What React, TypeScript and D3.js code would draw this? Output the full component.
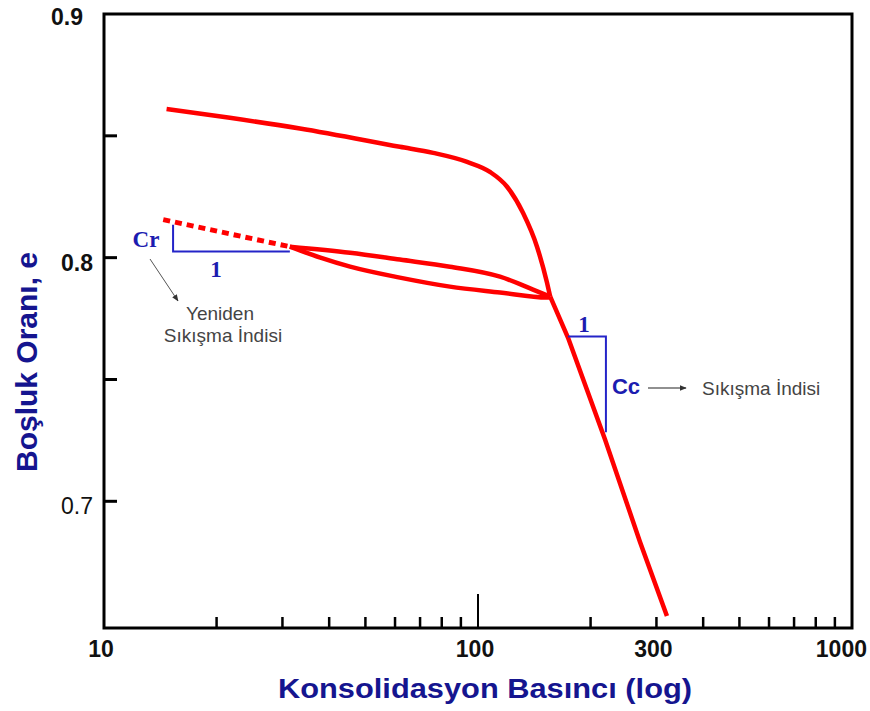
import React, { useEffect, useRef } from "react";
import * as d3 from "d3";

// values (pressure on log axis, void ratio e)
const virginP = [14.7, 21.7, 33.4, 61.8, 75.9, 93.5, 107.6, 119.6, 131.9, 143.8, 152.9, 156];
const virginE = [0.861, 0.8574, 0.853, 0.8455, 0.843, 0.8393, 0.8352, 0.8291, 0.8184, 0.8045, 0.7898, 0.784];

const compP = [156, 174, 218.6, 271.3, 320];
const compE = [0.784, 0.7672, 0.7254, 0.6832, 0.6529];

const unloadP = [31.4, 37.9, 45.5, 61.8, 84.1, 114.5, 152.9, 156];
const unloadE = [0.8045, 0.8, 0.7963, 0.7918, 0.7881, 0.7857, 0.7836, 0.784];

const reloadP = [31.4, 45.5, 61.8, 84.1, 114.5, 140.3, 156];
const reloadE = [0.8045, 0.802, 0.7992, 0.7963, 0.7922, 0.7869, 0.784];

const extP = [14.4, 31.4];
const extE = [0.8156, 0.8045];

// slope triangles
const crP = [15.3, 31.4];
const crE = [0.8135, 0.8025];
const ccP = [174, 219.8];
const ccE = [0.7676, 0.7283];

const xLabels = [10, 100, 300, 1000];
const xMinor = [20, 30, 40, 50, 60, 70, 80, 90, 200, 300, 400, 500, 600, 700, 800, 900];
const yTicks = [0.85, 0.8, 0.75, 0.7];
const yLabels = [0.9, 0.8, 0.7];

const sans = "'Liberation Sans', Arial, sans-serif";
const serif = "'Liberation Serif', 'Times New Roman', serif";

export default function App() {
  const ref = useRef<SVGSVGElement>(null);

  useEffect(() => {
    const svg = d3.select(ref.current);
    svg.selectAll("*").remove();

    const left = 104, right = 852, top = 14, bottom = 628;
    const x = d3.scaleLog().domain([10, 1000]).range([left, right]);
    const y = d3.scaleLinear().domain([0.648, 0.9]).range([bottom, top]);

    const pts = (ps: number[], es: number[]) => ps.map((p, i) => [p, es[i]] as [number, number]);
    const smooth = d3.line<[number, number]>()
      .x(d => x(d[0])).y(d => y(d[1]))
      .curve(d3.curveMonotoneX);
    const straight = d3.line<[number, number]>()
      .x(d => x(d[0])).y(d => y(d[1]));

    // frame
    svg.append("rect")
      .attr("x", left).attr("y", top)
      .attr("width", right - left).attr("height", bottom - top)
      .attr("fill", "none").attr("stroke", "#000").attr("stroke-width", 3);

    // y ticks (inside)
    svg.selectAll(".yt").data(yTicks).enter().append("line")
      .attr("x1", left).attr("x2", left + 13)
      .attr("y1", d => y(d)).attr("y2", d => y(d))
      .attr("stroke", "#000").attr("stroke-width", 3);

    svg.selectAll(".yl").data(yLabels).enter().append("text")
      .attr("x", d => (d === 0.9 ? left - 21 : left - 11))
      .attr("y", d => y(d) + (d === 0.9 ? 11 : 13))
      .attr("text-anchor", "end")
      .attr("font-family", sans).attr("font-size", 23)
      .attr("font-weight", d => (d === 0.7 ? "normal" : "bold"))
      .attr("fill", "#111")
      .text(d => d.toFixed(1));

    // x ticks (inside)
    svg.selectAll(".xt").data(xMinor).enter().append("line")
      .attr("x1", d => x(d)).attr("x2", d => x(d))
      .attr("y1", bottom).attr("y2", bottom - 11)
      .attr("stroke", "#000").attr("stroke-width", 2.5);
    svg.append("line")
      .attr("x1", x(100)).attr("x2", x(100))
      .attr("y1", bottom).attr("y2", bottom - 34)
      .attr("stroke", "#000").attr("stroke-width", 2);

    svg.selectAll(".xl").data(xLabels).enter().append("text")
      .attr("x", d => (d === 1000 ? 867 : x(d) - 3))
      .attr("y", 657)
      .attr("text-anchor", d => (d === 1000 ? "end" : "middle"))
      .attr("font-family", sans).attr("font-size", 23).attr("font-weight", "bold")
      .attr("fill", "#111")
      .text(d => String(d));

    // axis titles
    svg.append("text")
      .attr("x", 485).attr("y", 698)
      .attr("text-anchor", "middle")
      .attr("font-family", sans).attr("font-size", 28).attr("font-weight", "bold")
      .attr("fill", "#15158f")
      .attr("textLength", 414).attr("lengthAdjust", "spacingAndGlyphs")
      .text("Konsolidasyon Basıncı (log)");
    svg.append("text")
      .attr("transform", "translate(37,362) rotate(-90)")
      .attr("text-anchor", "middle")
      .attr("font-family", sans).attr("font-size", 29).attr("font-weight", "bold")
      .attr("fill", "#15158f")
      .attr("textLength", 220).attr("lengthAdjust", "spacingAndGlyphs")
      .text("Boşluk Oranı, e");

    // curves
    const red = "#ff0000";
    svg.append("path").datum(pts(virginP, virginE))
      .attr("d", smooth).attr("fill", "none").attr("stroke", red)
      .attr("stroke-width", 4.5).attr("stroke-linejoin", "round");
    svg.append("path").datum(pts(compP, compE))
      .attr("d", straight).attr("fill", "none").attr("stroke", red)
      .attr("stroke-width", 4.5).attr("stroke-linejoin", "round");
    svg.append("path").datum(pts(unloadP, unloadE))
      .attr("d", smooth).attr("fill", "none").attr("stroke", red).attr("stroke-width", 4.5);
    svg.append("path").datum(pts(reloadP, reloadE))
      .attr("d", smooth).attr("fill", "none").attr("stroke", red).attr("stroke-width", 4.5);
    svg.append("path").datum(pts(extP, extE))
      .attr("d", straight).attr("fill", "none").attr("stroke", red)
      .attr("stroke-width", 5).attr("stroke-dasharray", "7,5");

    // slope triangles
    const blue = "#2424c8";
    svg.append("path")
      .attr("d", `M${x(crP[0])},${y(crE[0])}V${y(crE[1])}H${x(crP[1])}`)
      .attr("fill", "none").attr("stroke", blue).attr("stroke-width", 2);
    svg.append("path")
      .attr("d", `M${x(ccP[0])},${y(ccE[0])}H${x(ccP[1])}V${y(ccE[1])}`)
      .attr("fill", "none").attr("stroke", blue).attr("stroke-width", 2);

    const navy = "#1c1cb0";
    svg.append("text").attr("x", 146).attr("y", 247).attr("text-anchor", "middle")
      .attr("font-family", serif).attr("font-size", 23).attr("font-weight", "bold")
      .attr("fill", navy).text("Cr");
    svg.append("text").attr("x", 216).attr("y", 277).attr("text-anchor", "middle")
      .attr("font-family", serif).attr("font-size", 23).attr("font-weight", "bold")
      .attr("fill", navy).text("1");
    svg.append("text").attr("x", 584).attr("y", 332).attr("text-anchor", "middle")
      .attr("font-family", serif).attr("font-size", 23).attr("font-weight", "bold")
      .attr("fill", navy).text("1");
    svg.append("text").attr("x", 626).attr("y", 394).attr("text-anchor", "middle")
      .attr("font-family", sans).attr("font-size", 22).attr("font-weight", "bold")
      .attr("fill", navy).text("Cc");

    // arrows and notes
    const defs = svg.append("defs");
    defs.append("marker").attr("id", "ah").attr("viewBox", "0 0 10 10")
      .attr("refX", 9).attr("refY", 5).attr("markerWidth", 7).attr("markerHeight", 7)
      .attr("markerUnits", "userSpaceOnUse").attr("orient", "auto")
      .append("path").attr("d", "M0,1L10,5L0,9Z").attr("fill", "#333");

    svg.append("line").attr("x1", 648).attr("y1", 388).attr("x2", 686).attr("y2", 388)
      .attr("stroke", "#222").attr("stroke-width", 1.2).attr("marker-end", "url(#ah)");
    svg.append("line").attr("x1", 150).attr("y1", 259).attr("x2", 178).attr("y2", 301)
      .attr("stroke", "#555").attr("stroke-width", 1).attr("marker-end", "url(#ah)");

    const note = (tx: number, ty: number, s: string, anchor: string) =>
      svg.append("text").attr("x", tx).attr("y", ty).attr("text-anchor", anchor)
        .attr("font-family", sans).attr("font-size", 19).attr("fill", "#444").text(s);
    note(220, 320, "Yeniden", "middle");
    note(223, 342, "Sıkışma İndisi", "middle");
    note(702, 395, "Sıkışma İndisi", "start");
  }, []);

  return (
    <svg ref={ref} width={870} height={711}
      style={{ position: "absolute", left: 0, top: 0, background: "#fff" }} />
  );
}
